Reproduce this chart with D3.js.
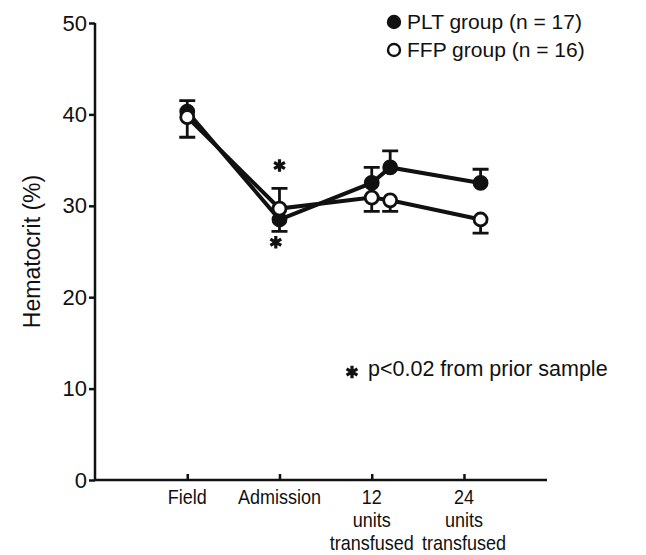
<!DOCTYPE html>
<html>
<head>
<meta charset="utf-8">
<script src="https://cdn.jsdelivr.net/npm/d3@7"></script>
<style>
  body { margin: 0; background: #fff; }
  text { font-family: "Liberation Sans", Arial, sans-serif; fill: #111; }
</style>
</head>
<body>
<div id="chart"></div>
<script>
// x categories (tick positions 0..3)
const categories = [["Field"], ["Admission"], ["12", "units", "transfused"], ["24", "units", "transfused"]];
// sample positions along the x axis
const samplePos = [0, 1, 2, 2.2, 3.18];
const pltMean = [40.3, 28.5, 32.5, 34.2, 32.5];
const ffpMean = [39.7, 29.7, 30.9, 30.6, 28.5];
// end of the one-sided error bar
const pltErrEnd = [41.5, 27.2, 34.2, 36.0, 34.0];
const ffpErrEnd = [37.5, 31.9, 29.4, 29.4, 27.0];
const yTicks = [0, 10, 20, 30, 40, 50];
// significance markers: [position, value]
const sigMarks = [[1, 34.4], [0.96, 26.0]];

const width = 646, height = 555;
const svg = d3.select("#chart").append("svg")
    .attr("width", width)
    .attr("height", height);

const x = d3.scaleLinear().domain([-1, 3.9]).range([95, 547]);
const y = d3.scaleLinear().domain([0, 50]).range([480, 23]);

// axes
const yAxis = svg.append("g")
    .attr("transform", "translate(" + x(-1) + ",0)")
    .call(d3.axisLeft(y).tickValues(yTicks).tickSize(6).tickPadding(2));
yAxis.select(".domain").attr("stroke", "#111").attr("stroke-width", 2.5).attr("d", "M0," + y(50) + "V" + y(0));
yAxis.selectAll(".tick line").attr("stroke", "#111").attr("stroke-width", 2.5);
yAxis.selectAll(".tick text").attr("font-size", 22).attr("fill", "#111")
    .style("font-family", "'Liberation Sans', Arial, sans-serif");

const xAxis = svg.append("g")
    .attr("transform", "translate(0," + y(0) + ")")
    .call(d3.axisBottom(x).tickValues([0, 1, 2, 3]).tickSize(-6).tickFormat(""));
xAxis.select(".domain").attr("stroke", "#111").attr("stroke-width", 2.5).attr("d", "M" + x(-1) + ",0H" + x(3.9));
xAxis.selectAll(".tick line").attr("stroke", "#111").attr("stroke-width", 2.5);

// multi-line x labels, condensed like the original type
svg.append("g").selectAll("text")
  .data(categories)
  .join("text")
    .attr("text-anchor", "middle")
    .attr("font-size", 20)
    .attr("transform", (d, i) => "translate(" + x(i) + ",504) scale(0.9,1)")
  .selectAll("tspan")
  .data(d => d)
  .join("tspan")
    .attr("x", 0)
    .attr("dy", (d, i) => i === 0 ? 0 : 23)
    .text(d => d);

svg.append("text")
    .attr("transform", "translate(40," + y(25) + ") rotate(-90)")
    .attr("text-anchor", "middle")
    .attr("font-size", 23)
    .text("Hematocrit (%)");

// series
const series = [
  {name: "PLT", mean: pltMean, err: pltErrEnd, fill: "#111"},
  {name: "FFP", mean: ffpMean, err: ffpErrEnd, fill: "#fff"}
];
const line = d3.line().x(d => x(d[0])).y(d => y(d[1]));

series.forEach(s => {
  const pts = samplePos.map((p, i) => [p, s.mean[i], s.err[i]]);
  const g = svg.append("g");
  g.selectAll(".err").data(pts).join("path")
      .attr("stroke", "#111").attr("stroke-width", 2.8).attr("fill", "none")
      .attr("d", d => "M" + x(d[0]) + "," + y(d[1]) + "V" + y(d[2]) +
        "M" + (x(d[0]) - 8) + "," + y(d[2]) + "H" + (x(d[0]) + 8));
  g.append("path").datum(pts)
      .attr("fill", "none").attr("stroke", "#111").attr("stroke-width", 4)
      .attr("d", line);
  g.selectAll("circle").data(pts).join("circle")
      .attr("cx", d => x(d[0])).attr("cy", d => y(d[1]))
      .attr("r", 6.5)
      .attr("fill", s.fill).attr("stroke", "#111").attr("stroke-width", 2.8);
});

// significance asterisks
const star = d3.symbol(d3.symbolAsterisk, 110);
svg.selectAll(".sig").data(sigMarks).join("path")
    .attr("transform", d => "translate(" + x(d[0]) + "," + y(d[1]) + ")")
    .attr("d", star).attr("stroke", "#111").attr("stroke-width", 3.2);

// legend
const legend = svg.append("g");
[["PLT group (n = 17)", "#111", 22], ["FFP group (n = 16)", "#fff", 50]].forEach(l => {
  legend.append("circle").attr("cx", 394).attr("cy", l[2]).attr("r", 6)
      .attr("fill", l[1]).attr("stroke", "#111").attr("stroke-width", 2.4);
  legend.append("text").attr("x", 407).attr("y", l[2] + 7)
      .attr("font-size", 21).text(l[0]);
});

svg.append("path")
    .attr("transform", "translate(352,372)")
    .attr("d", star).attr("stroke", "#111").attr("stroke-width", 3.2);
svg.append("text").attr("x", 368).attr("y", 376)
    .attr("font-size", 21.5).text("p<0.02 from prior sample");
</script>
</body>
</html>
